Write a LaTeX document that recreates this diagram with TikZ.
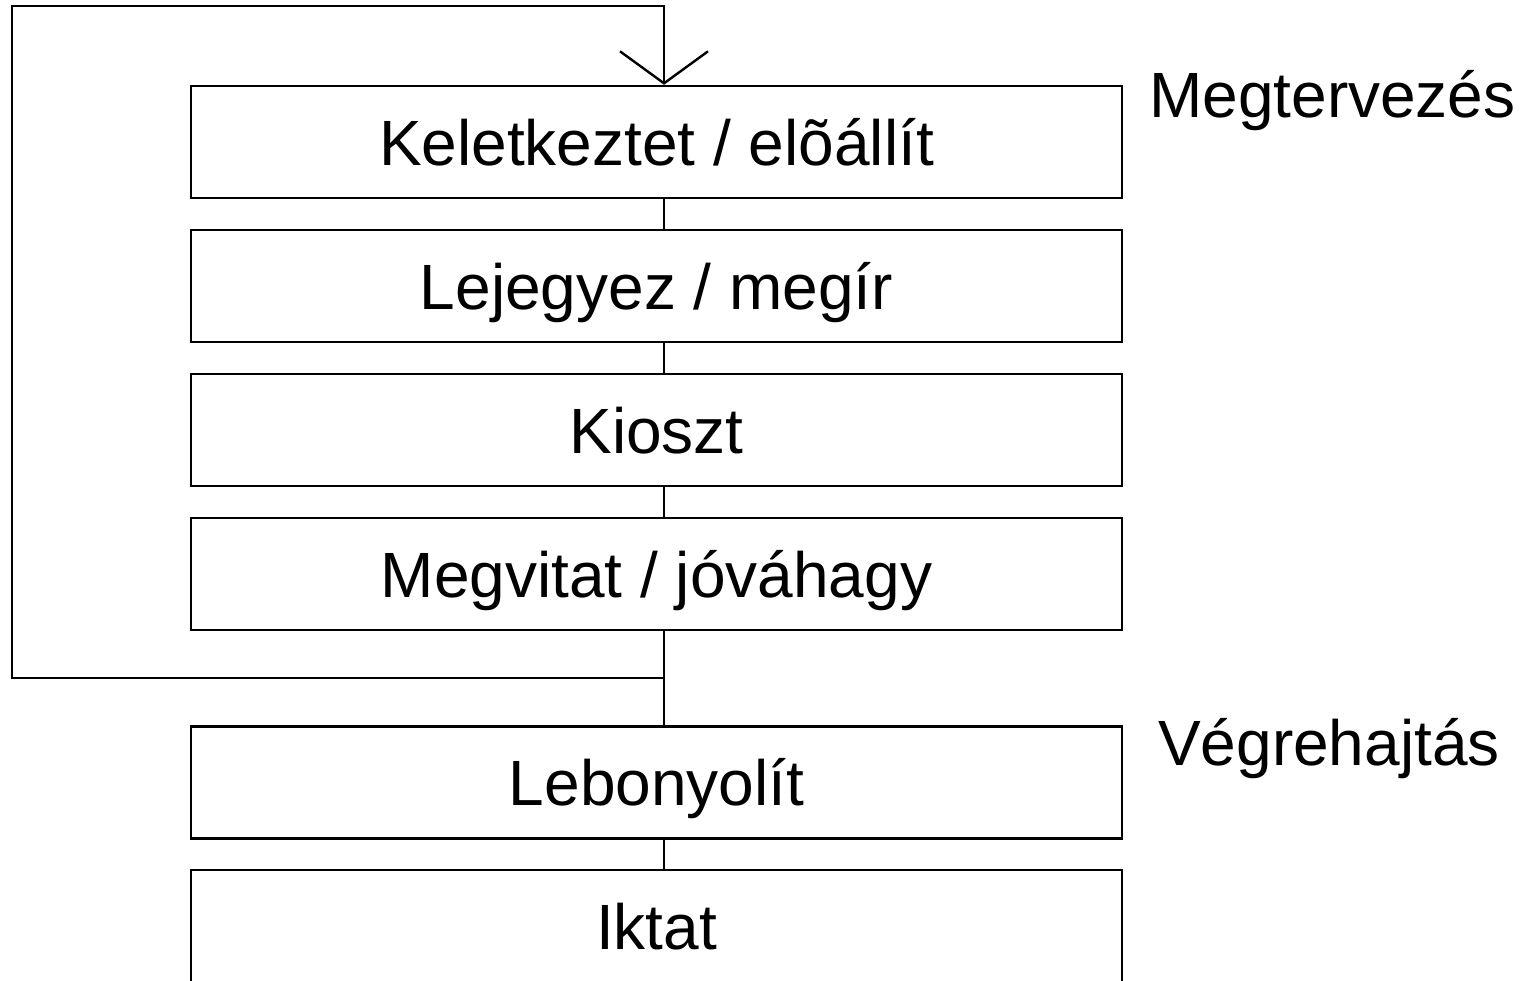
\documentclass[tikz,border=0pt]{standalone}
\usepackage{fontspec}
\setmainfont{Liberation Sans}
\usetikzlibrary{arrows.meta}
\begin{document}
\begin{tikzpicture}[x=1pt,y=-1pt,
  line width=2.4pt,
  box/.style={draw, minimum width=931pt, minimum height=112pt, inner sep=0pt,
    text height=46pt, text depth=0pt, font=\fontsize{64}{76}\selectfont},
  phase/.style={anchor=base west, inner sep=0pt, font=\fontsize{64}{76}\selectfont},
  link/.style={draw},
  barb/.style={-{Straight Barb[length=32pt,width=88pt]}}]
\useasboundingbox (0,0) rectangle (1533,980);
\node[box] (b1) at (656.5,142) {Keletkeztet / elõállít};
\node[box] (b2) at (656.5,286) {Lejegyez / megír};
\node[box] (b3) at (656.5,430) {Kioszt};
\node[box] (b4) at (656.5,574) {Megvitat / jóváhagy};
\node[box] (b5) at (656.5,782.5) {Lebonyolít};
\node[box] (b6) at (656.5,926) {Iktat};
\node[phase] (p1) at (1148,117) {Megtervezés};
\node[phase] (p2) at (1157,765) {Végrehajtás};
\coordinate (j) at (664,678);
\coordinate (c1) at (12,678);
\coordinate (c2) at (12,6);
\coordinate (c3) at (664,6);
\draw[link] (b1.south -| j) -- (b2.north -| j);
\draw[link] (b2.south -| j) -- (b3.north -| j);
\draw[link] (b3.south -| j) -- (b4.north -| j);
\draw[link] (b4.south -| j) -- (b5.north -| j);
\draw[link] (b5.south -| j) -- (b6.north -| j);
\draw[link,barb] (j) -- (c1) -- (c2) -- (c3) -- (b1.north -| c3);
\end{tikzpicture}
\end{document}
